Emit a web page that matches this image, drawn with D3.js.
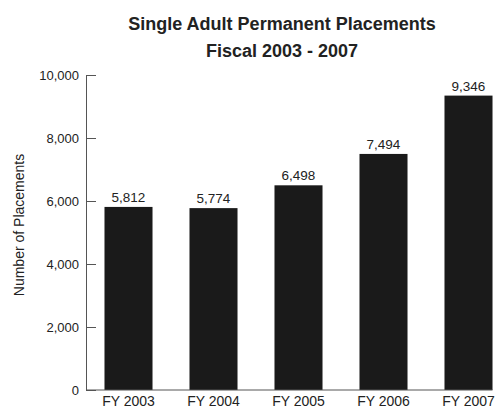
<!DOCTYPE html>
<html><head><meta charset="utf-8">
<script src="https://cdn.jsdelivr.net/npm/d3@7"></script>
<style>body{margin:0;background:#fff}text{fill:#222}</style>
</head><body><svg id="chart"></svg>
<script>
const years = ['FY 2003', 'FY 2004', 'FY 2005', 'FY 2006', 'FY 2007'];
const placements = [5812, 5774, 6498, 7494, 9346];
const yTicks = [0, 2000, 4000, 6000, 8000, 10000];
const titleLines = ['Single Adult Permanent Placements', 'Fiscal 2003 - 2007'];
const yLabel = 'Number of Placements';

const W = 498, H = 408, font = '"Liberation Sans", Arial, sans-serif';
const margin = {top: 75, right: -13, bottom: 18, left: 86};
const width = W - margin.left - margin.right, height = H - margin.top - margin.bottom;

const svg = d3.select('#chart').attr('width', W).attr('height', H);
const g = svg.append('g').attr('transform', `translate(${margin.left},${margin.top})`);

const x = d3.scaleBand().domain(years).range([0, width]).paddingInner(0.435).paddingOuter(0.2175);
const y = d3.scaleLinear().domain([0, 10000]).range([height, 0]);

// title
svg.append('g').selectAll('text').data(titleLines).join('text')
  .attr('x', 282).attr('y', (d, i) => 30 + i * 27).attr('text-anchor', 'middle')
  .style('font', `bold 18px ${font}`).text(d => d);

// bars
g.selectAll('.bar').data(placements).join('rect').attr('class', 'bar')
  .attr('x', (d, i) => x(years[i])).attr('width', x.bandwidth())
  .attr('y', d => y(d)).attr('height', d => height - y(d)).attr('fill', '#1a1a1a');
g.selectAll('.val').data(placements).join('text').attr('class', 'val')
  .attr('x', (d, i) => x(years[i]) + x.bandwidth() / 2).attr('y', d => y(d) - 5)
  .attr('text-anchor', 'middle').style('font', `13.5px ${font}`).text(d3.format(','));

// y axis
const yAxis = g.append('g').call(d3.axisLeft(y).tickValues(yTicks).tickFormat(d3.format(',')).tickSizeInner(-10).tickSizeOuter(0).tickPadding(7));
yAxis.select('.domain').attr('stroke', '#555');
yAxis.selectAll('.tick line').attr('stroke', '#555');
yAxis.selectAll('.tick text').style('font', `13px ${font}`).attr('fill', '#222');

// x axis
const xAxis = g.append('g').attr('transform', `translate(0,${height})`).call(d3.axisBottom(x).tickSize(0).tickPadding(6));
xAxis.select('.domain').attr('stroke', '#555').attr('d', `M0,0H${x(years[4]) + x.bandwidth()}`);
xAxis.selectAll('.tick text').style('font', `14px ${font}`).attr('fill', '#222');

svg.append('text').attr('transform', `translate(24,225) rotate(-90)`)
  .attr('text-anchor', 'middle').style('font', `14px ${font}`).text(yLabel);
</script></body></html>
